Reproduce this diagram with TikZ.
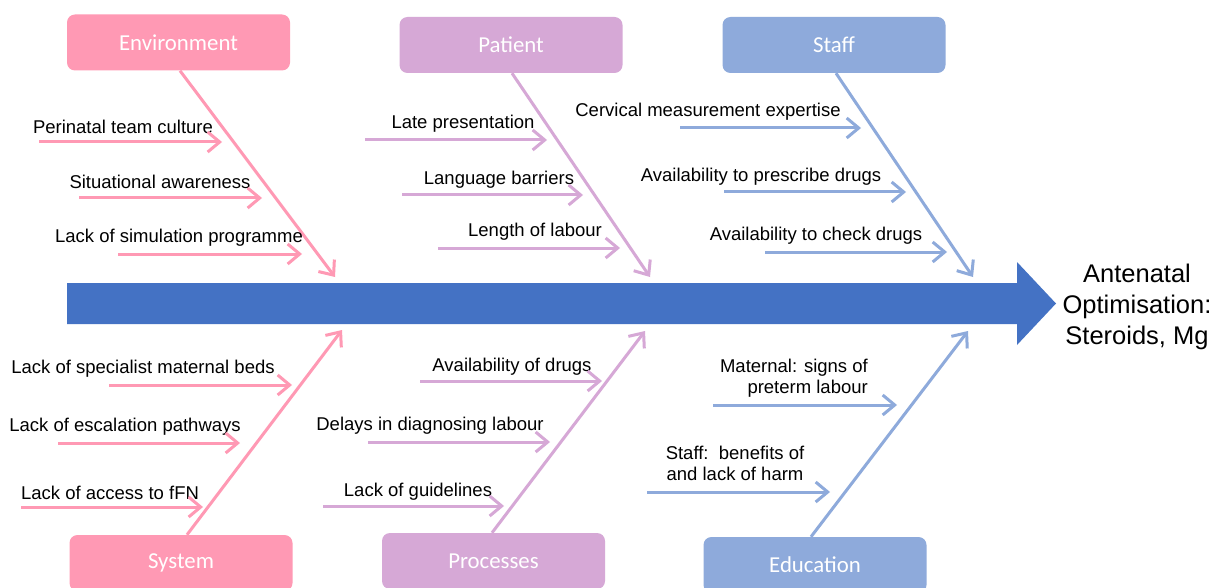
\documentclass[tikz,border=0pt]{standalone}
\usepackage{fontspec}
\setmainfont{Liberation Sans}
\newfontfamily\catfont{Carlito}
\usetikzlibrary{arrows.meta}
\definecolor{pinkc}{HTML}{FF99B4}
\definecolor{purpc}{HTML}{D6A8D6}
\definecolor{bluec}{HTML}{8EAADB}
\definecolor{spinec}{HTML}{4472C4}
\begin{document}
\begin{tikzpicture}[x=1pt,y=-1pt,
  cat/.style={rounded corners=8pt, minimum width=223pt, minimum height=56pt, inner sep=0pt, text=white, font=\catfont\fontsize{22.8}{26}\selectfont},
  lbl/.style={font=\fontsize{18.5}{21}\selectfont, inner sep=0pt, text=black},
  arr/.style={line width=3pt, -{Straight Barb[length=12pt,width=20pt]}},
  res/.style={font=\fontsize{25.5}{31}\selectfont, align=center, inner sep=0pt}]
\useasboundingbox (0,0) rectangle (1215,588);
\clip (0,0) rectangle (1215,588);
\fill[white] (0,0) rectangle (1215,588);

% spine
\fill[spinec] (67,283) -- (1017,283) -- (1017,262) -- (1056,303.5) -- (1017,345) -- (1017,324) -- (67,324) -- cycle;
\node[res] (result) at (1137,307) {Antenatal\\Optimisation:\\Steroids, Mg};

% category boxes
\node[cat, fill=pinkc] (env) at (178.5,42.5) {Environment};
\node[cat, fill=purpc] (pat) at (511,45) {Patient};
\node[cat, fill=bluec] (staff) at (834,45) {Staff};
\node[cat, fill=pinkc] (sys) at (181,563) {System};
\node[cat, fill=purpc] (proc) at (493.5,561) {Processes};
\node[cat, fill=bluec] (edu) at (815,565) {Education};

% bone tips
\coordinate (envtip) at (335,277);
\coordinate (pattip) at (650,277);
\coordinate (stafftip) at (973,277);
\coordinate (systip) at (342,330);
\coordinate (proctip) at (645,331);
\coordinate (edutip) at (968,331);

\draw[arr, pinkc] ([xshift=1.5pt]env.south) -- (envtip);
\draw[arr, purpc] ([xshift=1pt]pat.south) -- (pattip);
\draw[arr, bluec] ([xshift=2pt]staff.south) -- (stafftip);
\draw[arr, pinkc] ([xshift=6pt]sys.north) -- (systip);
\draw[arr, purpc] ([xshift=-1.5pt]proc.north) -- (proctip);
\draw[arr, bluec] ([xshift=-4pt]edu.north) -- (edutip);

% Environment causes
\node[lbl] (e1) at (123,127) {Perinatal team culture};
\node[lbl] (e2) at (160,182) {Situational awareness};
\node[lbl] (e3) at (179,238) {Lack of simulation programme};
\coordinate (e1s) at (39,142);  \coordinate (e1e) at (222,142);
\coordinate (e2s) at (79,198);  \coordinate (e2e) at (262,198);
\coordinate (e3s) at (118,254); \coordinate (e3e) at (302,254);
\draw[arr, pinkc] (e1s) -- (e1e);
\draw[arr, pinkc] (e2s) -- (e2e);
\draw[arr, pinkc] (e3s) -- (e3e);

% Patient causes
\node[lbl] (p1) at (463,124) {Late presentation};
\node[lbl] (p2) at (499,180) {Language barriers};
\node[lbl] (p3) at (535,232) {Length of labour};
\coordinate (p1s) at (365,140); \coordinate (p1e) at (547,140);
\coordinate (p2s) at (402,195); \coordinate (p2e) at (583,195);
\coordinate (p3s) at (438,248); \coordinate (p3e) at (620,248);
\draw[arr, purpc] (p1s) -- (p1e);
\draw[arr, purpc] (p2s) -- (p2e);
\draw[arr, purpc] (p3s) -- (p3e);

% Staff causes
\node[lbl] (s1) at (708,112) {Cervical measurement expertise};
\node[lbl] (s2) at (761,177) {Availability to prescribe drugs};
\node[lbl] (s3) at (816,236) {Availability to check drugs};
\coordinate (s1s) at (680,128); \coordinate (s1e) at (861,128);
\coordinate (s2s) at (724,192); \coordinate (s2e) at (906,192);
\coordinate (s3s) at (765,252); \coordinate (s3e) at (947,252);
\draw[arr, bluec] (s1s) -- (s1e);
\draw[arr, bluec] (s2s) -- (s2e);
\draw[arr, bluec] (s3s) -- (s3e);

% System causes
\node[lbl] (y1) at (143,369) {Lack of specialist maternal beds};
\node[lbl] (y2) at (125,427) {Lack of escalation pathways};
\node[lbl] (y3) at (110,493) {Lack of access to fFN};
\coordinate (y1s) at (109,385); \coordinate (y1e) at (292,385);
\coordinate (y2s) at (58,443);  \coordinate (y2e) at (240,443);
\coordinate (y3s) at (21,507);  \coordinate (y3e) at (203,507);
\draw[arr, pinkc] (y1s) -- (y1e);
\draw[arr, pinkc] (y2s) -- (y2e);
\draw[arr, pinkc] (y3s) -- (y3e);

% Processes causes
\node[lbl] (r1) at (512,367) {Availability of drugs};
\node[lbl] (r2) at (430,426) {Delays in diagnosing labour};
\node[lbl] (r3) at (418,492) {Lack of guidelines};
\coordinate (r1s) at (420,381); \coordinate (r1e) at (602,381);
\coordinate (r2s) at (368,442); \coordinate (r2e) at (550,442);
\coordinate (r3s) at (323,506); \coordinate (r3e) at (504,506);
\draw[arr, purpc] (r1s) -- (r1e);
\draw[arr, purpc] (r2s) -- (r2e);
\draw[arr, purpc] (r3s) -- (r3e);

% Education causes
\node[lbl, align=right, anchor=east] (d1) at (868,378) {Maternal: signs of\\preterm labour};
\node[lbl, align=center] (d2) at (735,463) {Staff:\ \ benefits of\\and lack of harm};
\coordinate (d1s) at (713,405); \coordinate (d1e) at (897,405);
\coordinate (d2s) at (647,492); \coordinate (d2e) at (830,492);
\draw[arr, bluec] (d1s) -- (d1e);
\draw[arr, bluec] (d2s) -- (d2e);
\end{tikzpicture}
\end{document}
